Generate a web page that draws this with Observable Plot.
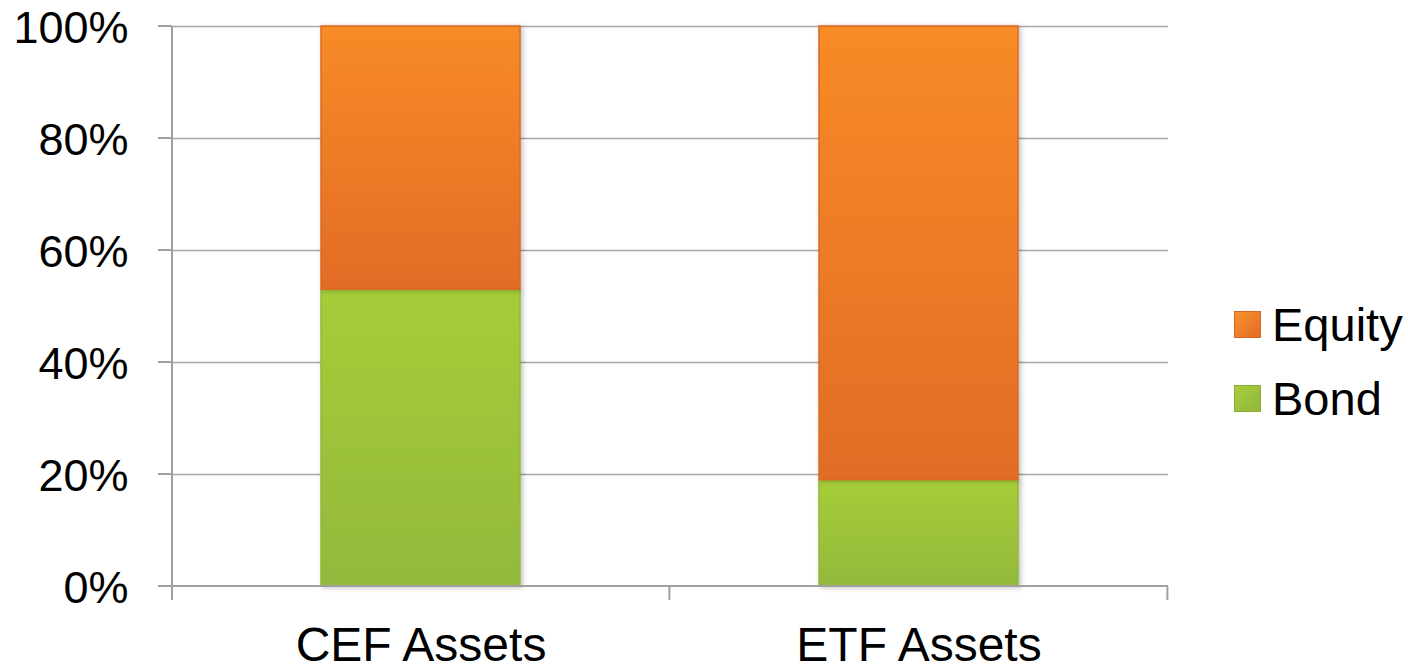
<!DOCTYPE html>
<html>
<head>
<meta charset="utf-8">
<script src="https://cdn.jsdelivr.net/npm/d3@7"></script>
<script src="https://cdn.jsdelivr.net/npm/@observablehq/plot@0.6"></script>
<style>
  body { margin: 0; background: #fff; font-family: "Liberation Sans", Arial, sans-serif; }
  #wrap { position: relative; width: 1408px; height: 666px; }
  .legend { position: absolute; left: 1234px; font-size: 47px; color: #000; }
  .legend .item { position: absolute; left: 0; display: flex; align-items: center; white-space: nowrap; height: 50px; }
  .legend .sw { width: 27px; height: 27px; margin-right: 11px; box-sizing: border-box; }
</style>
</head>
<body>
<div id="wrap"></div>
<script>
const categories = ["CEF Assets", "ETF Assets"];
const bondValues = [53, 19];
const equityValues = [47, 81];
const yTicks = [0, 20, 40, 60, 80, 100];
const seriesNames = ["Equity", "Bond"];

const rows = categories.map((c, i) => ({cat: c, bond: bondValues[i], equity: equityValues[i]}));

const axisLines = (index, scales, values, dims) => {
  const g = d3.create("svg:g").attr("stroke", "#a0a0a0").attr("stroke-width", 2);
  const x = scales.x, y = scales.y;
  const step = x.step();
  const pin = 0.6;
  const y0 = dims.height - dims.marginBottom;
  const bounds = [dims.marginLeft, ...categories.map(c => x(c) + x.bandwidth() + pin * step / 2)];
  g.append("line").attr("x1", dims.marginLeft).attr("x2", dims.marginLeft)
    .attr("y1", dims.marginTop).attr("y2", y0 + 14);
  g.append("line").attr("x1", dims.marginLeft - 14).attr("x2", dims.width - dims.marginRight)
    .attr("y1", y0).attr("y2", y0);
  for (const t of yTicks) {
    g.append("line").attr("x1", dims.marginLeft - 14).attr("x2", dims.marginLeft)
      .attr("y1", y(t)).attr("y2", y(t));
  }
  for (const b of bounds) {
    g.append("line").attr("x1", b).attr("x2", b).attr("y1", y0).attr("y2", y0 + 14);
  }
  return g.node();
};

const chart = Plot.plot({
  width: 1408,
  height: 666,
  marginLeft: 172,
  marginRight: 240,
  marginTop: 26,
  marginBottom: 80,
  style: {fontFamily: "'Liberation Sans', Arial, sans-serif", background: "#fff"},
  x: {domain: categories, paddingInner: 0.6, paddingOuter: 0.3, label: null},
  y: {domain: [0, 100], label: null},
  marks: [
    Plot.ruleY(yTicks.slice(1), {stroke: "#a6a6a6", strokeWidth: 1.5, strokeOpacity: 1}),
    Plot.barY(rows, {x: "cat", y1: 0, y2: "bond", fill: "url(#gGreen)", stroke: "#93b83a", strokeWidth: 1.5, inset: 0, className: "barG"}),
    Plot.barY(rows, {x: "cat", y1: "bond", y2: 100, fill: "url(#gOrange)", stroke: "#dc6a22", strokeWidth: 1.5, inset: 0, className: "barO"}),
    Plot.axisY({ticks: yTicks, tickFormat: d => d + "%", tickSize: 0, tickPadding: 44, dy: 2, fontSize: 45, fill: "#000"}),
    Plot.axisX({tickSize: 0, tickPadding: 40, fontSize: 48, fill: "#000"}),
    axisLines
  ]
});

const svg = d3.select(chart);
svg.selectAll("text").attr("fill", "#000");
const defs = svg.insert("defs", ":first-child");
const go = defs.append("linearGradient").attr("id", "gOrange").attr("x1", 0).attr("y1", 0).attr("x2", 0).attr("y2", 1);
go.append("stop").attr("offset", "0%").attr("stop-color", "#f78b26");
go.append("stop").attr("offset", "100%").attr("stop-color", "#e26c28");
const gg = defs.append("linearGradient").attr("id", "gGreen").attr("x1", 0).attr("y1", 0).attr("x2", 0).attr("y2", 1);
gg.append("stop").attr("offset", "0%").attr("stop-color", "#a6cd38");
gg.append("stop").attr("offset", "100%").attr("stop-color", "#93b93c");
const f = defs.append("filter").attr("id", "shadow").attr("x", "-10%").attr("y", "-10%").attr("width", "130%").attr("height", "130%");
f.append("feDropShadow").attr("dx", 2).attr("dy", 1).attr("stdDeviation", 2.5).attr("flood-color", "#000").attr("flood-opacity", 0.25);
svg.selectAll(".barG rect, .barO rect").attr("filter", "url(#shadow)");

const wrap = document.getElementById("wrap");
wrap.appendChild(chart);

const legend = document.createElement("div");
legend.className = "legend";
legend.style.top = "0px";
const swatchColors = {Equity: "linear-gradient(135deg,#f8932c,#e26a26)", Bond: "linear-gradient(135deg,#a9cf3c,#8fb63a)"};
const tops = {Equity: 299, Bond: 373};
for (const s of seriesNames) {
  const it = document.createElement("div");
  it.className = "item";
  it.style.top = tops[s] + "px";
  const sw = document.createElement("div");
  sw.className = "sw";
  sw.style.background = swatchColors[s];
  sw.style.border = "1px solid " + (s === "Equity" ? "#d7671f" : "#89ad35");
  const t = document.createElement("span");
  t.textContent = s;
  it.appendChild(sw);
  it.appendChild(t);
  legend.appendChild(it);
}
wrap.appendChild(legend);
</script>
</body>
</html>
